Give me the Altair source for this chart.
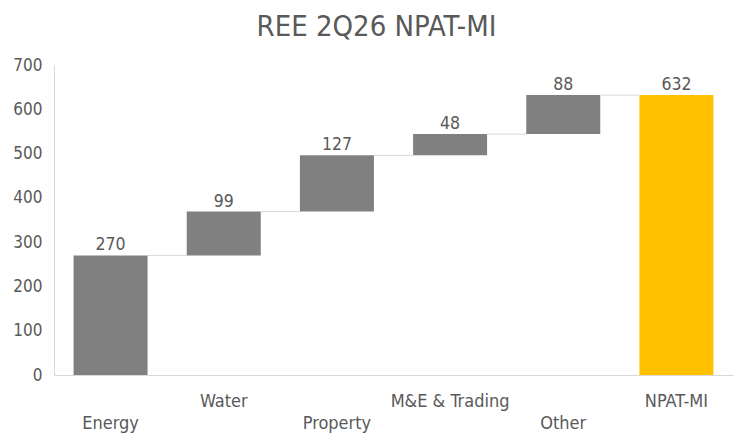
import altair as alt
import pandas as pd

categories = ["Energy", "Water", "Property", "M&E & Trading", "Other", "NPAT-MI"]
values = [270, 99, 127, 48, 88, 632]
is_total = [False, False, False, False, False, True]

FONT = "DejaVu Sans Condensed"
TXT = "#595959"

rows = []
cum = 0
for i, (c, v, t) in enumerate(zip(categories, values, is_total)):
    if t:
        start, end = 0, v
    else:
        start, end = cum, cum + v
        cum = end
    nxt = categories[i + 1] if i + 1 < len(categories) else None
    rows.append({"cat": c, "idx": i, "value": v, "start": start, "end": end,
                 "next": nxt, "kind": "Total" if t else "Step"})
df = pd.DataFrame(rows)

xscale = alt.Scale(domain=categories, paddingInner=0.346, paddingOuter=0.173)
xaxis = alt.Axis(labels=False, ticks=False, title=None, domainColor="#D9D9D9", domainWidth=1)
yscale = alt.Scale(domain=[0, 700], nice=False)
yaxis = alt.Axis(values=[0, 100, 200, 300, 400, 500, 600, 700], grid=False, ticks=False,
                 domainColor="#D9D9D9", labelFont=FONT, labelFontSize=17, labelColor=TXT,
                 labelPadding=12, title=None)

base = alt.Chart(df)

connectors = base.transform_filter("datum.next != null").mark_rule(
    color="#D9D9D9", strokeWidth=1
).encode(
    x=alt.X("cat:N", scale=xscale, axis=xaxis, sort=categories, bandPosition=1),
    x2=alt.X2("next:N", bandPosition=0),
    y=alt.Y("end:Q", scale=yscale, axis=yaxis),
)

bars = base.mark_bar().encode(
    x=alt.X("cat:N", scale=xscale, axis=xaxis, sort=categories),
    y=alt.Y("start:Q", scale=yscale, axis=yaxis),
    y2="end:Q",
    color=alt.Color("kind:N", scale=alt.Scale(domain=["Step", "Total"],
                                              range=["#808080", "#FFC000"]), legend=None),
)

labels = base.mark_text(font=FONT, fontSize=17.5, color=TXT, baseline="alphabetic", dy=-5).encode(
    x=alt.X("cat:N", scale=xscale, sort=categories),
    y=alt.Y("end:Q", scale=yscale),
    text=alt.Text("value:Q"),
)

cat_low = base.transform_filter("datum.idx % 2 == 0").mark_text(
    font=FONT, fontSize=18, color=TXT, baseline="alphabetic"
).encode(
    x=alt.X("cat:N", scale=xscale, sort=categories),
    y=alt.value(364),
    text="cat:N",
)

cat_high = base.transform_filter("datum.idx % 2 == 1").mark_text(
    font=FONT, fontSize=18, color=TXT, baseline="alphabetic"
).encode(
    x=alt.X("cat:N", scale=xscale, sort=categories),
    y=alt.value(342),
    text="cat:N",
)

chart = alt.layer(connectors, bars, labels, cat_low, cat_high).properties(
    width=679,
    height=310,
    title=alt.TitleParams("REE 2Q26 NPAT-MI", font=FONT, fontSize=29, fontWeight="normal",
                          color=TXT, anchor="middle", frame="group", offset=-9,
                          baseline="alphabetic", dx=-17),
    autosize=alt.AutoSizeParams(type="none"),
    padding={"left": 46, "top": 57, "right": 8, "bottom": 62},
    background="white",
).configure_view(stroke=None)

chart.save("out.html", embed_options={"renderer": "svg", "actions": False})
